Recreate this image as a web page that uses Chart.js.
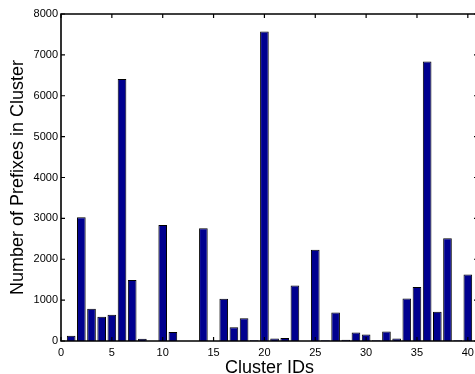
<!DOCTYPE html>
<html>
<head>
<meta charset="utf-8">
<script src="https://cdn.jsdelivr.net/npm/chart.js@4/dist/chart.umd.min.js"></script>
<style>
  html, body { margin: 0; padding: 0; background: #fff; overflow: hidden; }
  #wrap { width: 480px; height: 374px; }
</style>
</head>
<body>
<div id="wrap"><canvas id="clusters" width="480" height="374"></canvas></div>
<script>
// prefixes per cluster
const clusterIds = [1, 2, 3, 4, 5, 6, 7, 8, 9, 10,
                    11, 12, 13, 14, 15, 16, 17, 18, 19, 20,
                    21, 22, 23, 24, 25, 26, 27, 28, 29, 30,
                    31, 32, 33, 34, 35, 36, 37, 38, 39, 40];
const prefixCounts = [130, 3030, 790, 595, 640, 6410, 1495, 55, 0, 2835,
                      220, 0, 0, 2760, 0, 1035, 335, 555, 20, 7570,
                      60, 75, 1355, 0, 2230, 20, 700, 30, 205, 160,
                      20, 235, 60, 1040, 1320, 6840, 715, 2515, 20, 1625];
const xTicks = [0, 5, 10, 15, 20, 25, 30, 35, 40];
const yTicks = [0, 1000, 2000, 3000, 4000, 5000, 6000, 7000, 8000];

const FONT = '"Liberation Sans", Arial, Helvetica, sans-serif';

// matlab style box, ticks pointing inward
const matlabBox = {
    id: 'matlabBox',
    afterDraw(chart) {
        const ctx = chart.ctx;
        const a = chart.chartArea;
        const x = chart.scales.x, y = chart.scales.y;
        const len = 4;
        ctx.save();
        ctx.strokeStyle = '#000';
        ctx.lineWidth = 1.6;
        ctx.lineCap = 'square';
        ctx.beginPath();
        ctx.moveTo(a.left, a.top);
        ctx.lineTo(a.right, a.top);
        ctx.lineTo(a.right, a.bottom);
        ctx.lineTo(a.left, a.bottom);
        ctx.closePath();
        ctx.stroke();
        ctx.lineWidth = 1.2;
        ctx.lineCap = 'butt';
        ctx.beginPath();
        xTicks.forEach(v => {
            const px = x.getPixelForValue(v);
            ctx.moveTo(px, a.bottom); ctx.lineTo(px, a.bottom - len);
            ctx.moveTo(px, a.top); ctx.lineTo(px, a.top + len);
        });
        yTicks.forEach(v => {
            const py = y.getPixelForValue(v);
            ctx.moveTo(a.left, py); ctx.lineTo(a.left + len, py);
            ctx.moveTo(a.right, py); ctx.lineTo(a.right - len, py);
        });
        ctx.stroke();
        ctx.restore();
    }
};

new Chart(document.getElementById('clusters'), {
    type: 'bar',
    data: {
        datasets: [{
            data: clusterIds.map((id, i) => ({ x: id, y: prefixCounts[i] })),
            backgroundColor: '#00008f',
            borderColor: '#000',
            borderWidth: 1,
            barPercentage: 0.85,
            categoryPercentage: 1,
            clip: false
        }]
    },
    options: {
        responsive: false,
        animation: false,
        layout: { padding: { top: 14, right: 2, left: 0, bottom: 0 } },
        plugins: { legend: { display: false }, tooltip: { enabled: false } },
        scales: {
            x: {
                type: 'linear',
                offset: false,
                min: 0,
                max: 41,   // matlab xlim [0 41], right edge is cropped off
                afterBuildTicks: s => { s.ticks = xTicks.map(v => ({ value: v })); },
                afterFit: s => { s.height = 33; },
                grid: { display: false, drawTicks: false },
                border: { display: false },
                ticks: {
                    padding: 5,
                    color: '#000',
                    maxRotation: 0,
                    font: { family: FONT, size: 11 },
                    callback: v => String(v)
                },
                title: {
                    display: true,
                    text: 'Cluster IDs',
                    color: '#000',
                    font: { family: FONT, size: 18, lineHeight: 1 },
                    padding: { top: 0, bottom: -3 }
                }
            },
            y: {
                min: 0,
                max: 8000,
                afterBuildTicks: s => { s.ticks = yTicks.map(v => ({ value: v })); },
                afterFit: s => { s.width = 61; },
                grid: { display: false, drawTicks: false },
                border: { display: false },
                ticks: {
                    padding: 3,
                    color: '#000',
                    font: { family: FONT, size: 11 },
                    callback: v => String(v)
                },
                title: {
                    display: true,
                    text: 'Number of Prefixes in Cluster',
                    color: '#000',
                    font: { family: FONT, size: 18, lineHeight: 1 },
                    padding: { top: 9, bottom: 0 }
                }
            }
        }
    },
    plugins: [matlabBox]
});
</script>
</body>
</html>
